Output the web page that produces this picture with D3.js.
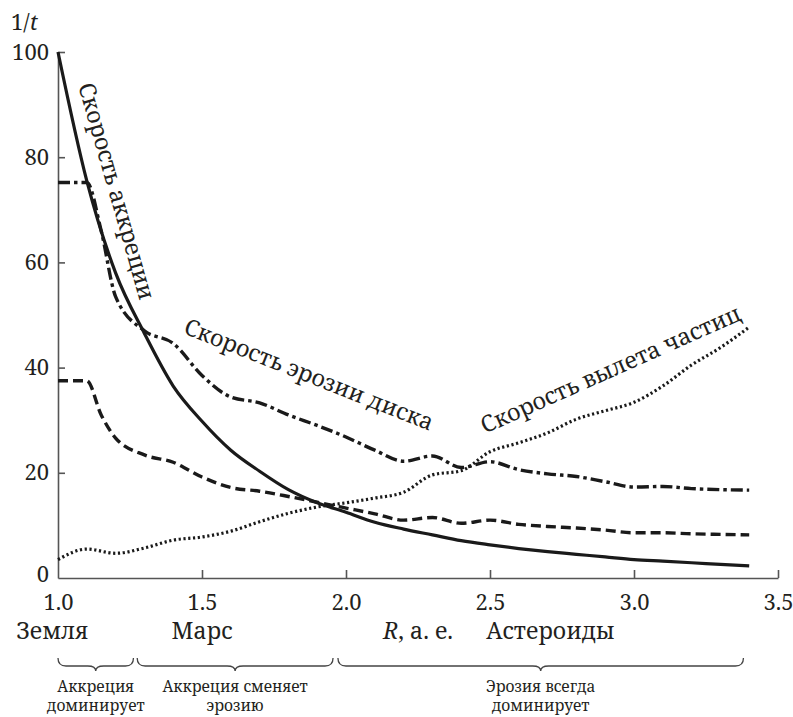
<!DOCTYPE html>
<html>
<head>
<meta charset="utf-8">
<script src="https://cdn.jsdelivr.net/npm/d3@7"></script>
</head>
<body style="margin:0">
<div id="chart"></div>
<script>
// distance R, a.u.
var rAcc = [1.0, 1.1, 1.2, 1.3, 1.4, 1.5, 1.6, 1.7, 1.8, 1.9, 2.0, 2.1, 2.2, 2.3, 2.4, 2.5, 2.6, 2.7, 2.8, 2.9, 3.0, 3.1, 3.2, 3.3, 3.4];
var accretion = [100, 75.5, 58, 46.5, 36.5, 29.8, 24.3, 20.3, 16.8, 14.3, 12.5, 10.6, 9.3, 8.2, 7.1, 6.3, 5.6, 5.0, 4.5, 4.0, 3.5, 3.2, 2.9, 2.6, 2.3];

var rEro = [1.0, 1.1, 1.15, 1.2, 1.3, 1.4, 1.5, 1.6, 1.7, 1.8, 1.9, 2.0, 2.1, 2.2, 2.3, 2.4, 2.5, 2.6, 2.7, 2.8, 2.9, 3.0, 3.1, 3.2, 3.3, 3.4];
var erosionDisk = [75.2, 75.2, 66, 53.5, 47, 44.6, 38.5, 34.4, 33.3, 31, 29, 26.8, 24.3, 22.2, 23.2, 21, 22.1, 20.6, 19.8, 19.3, 18.3, 17.3, 17.4, 17, 16.8, 16.7];
var erosionHalf = [37.5, 37.5, 31, 26.6, 23.4, 22, 19.2, 17.2, 16.5, 15.5, 14.4, 13.3, 12.2, 11, 11.5, 10.4, 11, 10.2, 9.8, 9.5, 9.1, 8.6, 8.6, 8.4, 8.3, 8.2];

var rOut = [1.0, 1.1, 1.2, 1.3, 1.4, 1.5, 1.6, 1.7, 1.8, 1.9, 2.0, 2.1, 2.2, 2.3, 2.4, 2.5, 2.6, 2.7, 2.8, 2.9, 3.0, 3.1, 3.2, 3.3, 3.4];
var outflow = [3.5, 5.5, 4.7, 5.7, 7.2, 7.8, 8.9, 10.7, 12.3, 13.5, 14.3, 15.2, 16.3, 19.6, 20.4, 24, 25.7, 27.6, 30.2, 31.8, 33.4, 36.5, 40.5, 43.8, 47.7];

var xTicks = [1.0, 1.5, 2.0, 2.5, 3.0, 3.5];
var yTicks = [0, 20, 40, 60, 80, 100];

var placeNames = [
  { r: 0.98, label: "Земля" },
  { r: 1.5, label: "Марс" },
  { r: 2.25, label: "а. е.", italic: "R" },
  { r: 2.71, label: "Астероиды" }
];

var regions = [
  { from: 1.0, to: 1.262, lines: ["Аккреция", "доминирует"] },
  { from: 1.275, to: 1.955, lines: ["Аккреция сменяет", "эрозию"] },
  { from: 1.972, to: 3.38, lines: ["Эрозия всегда", "доминирует"] }
];

var curveLabels = [
  { r: 1.2, v: 73.5, angle: 74, text: "Скорость аккреции" },
  { r: 1.87, v: 38.5, angle: 21.6, text: "Скорость эрозии диска" },
  { r: 2.92, v: 39.5, angle: -24, text: "Скорость вылета частиц" }
];

var width = 793;
var height = 717;
var ink = "#231f20";
var serif = "'Noto Serif'";

var svg = d3.select("#chart")
  .append("svg")
  .attr("width", width)
  .attr("height", height);

var xScale = d3.scaleLinear().domain([1.0, 3.5]).range([58, 778]);
var yScale = d3.scaleLinear().domain([0, 100]).range([578, 52]);

// axes
var yAxis = d3.axisLeft(yScale)
  .tickValues(yTicks)
  .tickSize(-7)
  .tickSizeOuter(0)
  .tickPadding(9)
  .tickFormat(d3.format("d"));

var gy = svg.append("g")
  .attr("transform", "translate(" + xScale(1.0) + ",0)")
  .call(yAxis);

var xAxis = d3.axisBottom(xScale)
  .tickValues(xTicks)
  .tickSize(-8)
  .tickSizeOuter(0)
  .tickPadding(16)
  .tickFormat(d3.format(".1f"));

var gx = svg.append("g")
  .attr("transform", "translate(0," + yScale(0) + ")")
  .call(xAxis);

[gx, gy].forEach(function(g) {
  g.select(".domain").attr("stroke", "#555").attr("stroke-width", 1.6);
  g.selectAll(".tick line").attr("stroke", "#555").attr("stroke-width", 1.6);
  g.selectAll(".tick text").style("font-size", "22px");
});
gx.selectAll(".tick").filter(function(d) { return d === 1.0; }).select("line").remove();
gy.selectAll(".tick").filter(function(d) { return d === 0; }).select("line").remove();
gy.selectAll(".tick").filter(function(d) { return d === 0; }).select("text").attr("dy", "0.15em");

// y axis title 1/t
var yTitle = svg.append("text")
  .attr("x", 11)
  .attr("y", 30)
  .style("font-size", "22px");
yTitle.append("tspan").text("1/");
yTitle.append("tspan").style("font-style", "italic").text("t");

// curves
function makeLine(rs) {
  return d3.line()
    .x(function(d, i) { return xScale(rs[i]); })
    .y(function(d) { return yScale(d); })
    .curve(d3.curveMonotoneX);
}

var series = [
  { rs: rOut, vals: outflow, dash: "2.2,2.6", w: 3.2 },
  { rs: rEro, vals: erosionHalf, dash: "10,5", w: 3.4 },
  { rs: rEro, vals: erosionDisk, dash: "12,4,3.5,4", w: 3.4 },
  { rs: rAcc, vals: accretion, dash: null, w: 3.2 }
];

series.forEach(function(s) {
  svg.append("path")
    .datum(s.vals)
    .attr("d", makeLine(s.rs))
    .attr("fill", "none")
    .attr("stroke", "#1a1a1a")
    .attr("stroke-width", s.w)
    .attr("stroke-dasharray", s.dash);
});

// curve labels
svg.selectAll("text.curveLabel")
  .data(curveLabels)
  .enter()
  .append("text")
  .attr("class", "curveLabel")
  .attr("transform", function(d) {
    return "translate(" + xScale(d.r) + "," + yScale(d.v) + ")rotate(" + d.angle + ")";
  })
  .attr("text-anchor", "middle")
  .attr("dy", "0.3em")
  .style("font-size", "23px")
  .text(function(d) { return d.text; });

// place names under the axis
var names = svg.selectAll("text.place")
  .data(placeNames)
  .enter()
  .append("text")
  .attr("class", "place")
  .attr("x", function(d) { return xScale(d.r); })
  .attr("y", 639)
  .attr("text-anchor", "middle")
  .style("font-size", "23px");

names.each(function(d) {
  var t = d3.select(this);
  if (d.italic) {
    t.append("tspan").style("font-style", "italic").text(d.italic);
    t.append("tspan").text(", " + d.label);
  } else {
    t.text(d.label);
  }
});

// braces
function bracePath(x0, x1, yTop) {
  var mid = (x0 + x1) / 2;
  var yl = yTop + 8;
  return "M" + x0 + "," + yTop +
    " Q" + x0 + "," + yl + " " + (x0 + 8) + "," + yl +
    " L" + (mid - 8) + "," + yl +
    " Q" + mid + "," + yl + " " + mid + "," + (yl + 5) +
    " Q" + mid + "," + yl + " " + (mid + 8) + "," + yl +
    " L" + (x1 - 8) + "," + yl +
    " Q" + x1 + "," + yl + " " + x1 + "," + yTop;
}

var braces = svg.selectAll("g.brace")
  .data(regions)
  .enter()
  .append("g")
  .attr("class", "brace");

braces.append("path")
  .attr("d", function(d) { return bracePath(xScale(d.from), xScale(d.to), 658); })
  .attr("fill", "none")
  .attr("stroke", "#444")
  .attr("stroke-width", 1.3);

braces.each(function(d) {
  var g = d3.select(this);
  var cx = (xScale(d.from) + xScale(d.to)) / 2;
  d.lines.forEach(function(line, i) {
    g.append("text")
      .attr("x", cx)
      .attr("y", 692 + i * 19)
      .attr("text-anchor", "middle")
      .style("font-size", "15.5px")
      .text(line);
  });
});

svg.selectAll("text")
  .style("font-family", serif)
  .attr("fill", ink);
</script>
</body>
</html>
